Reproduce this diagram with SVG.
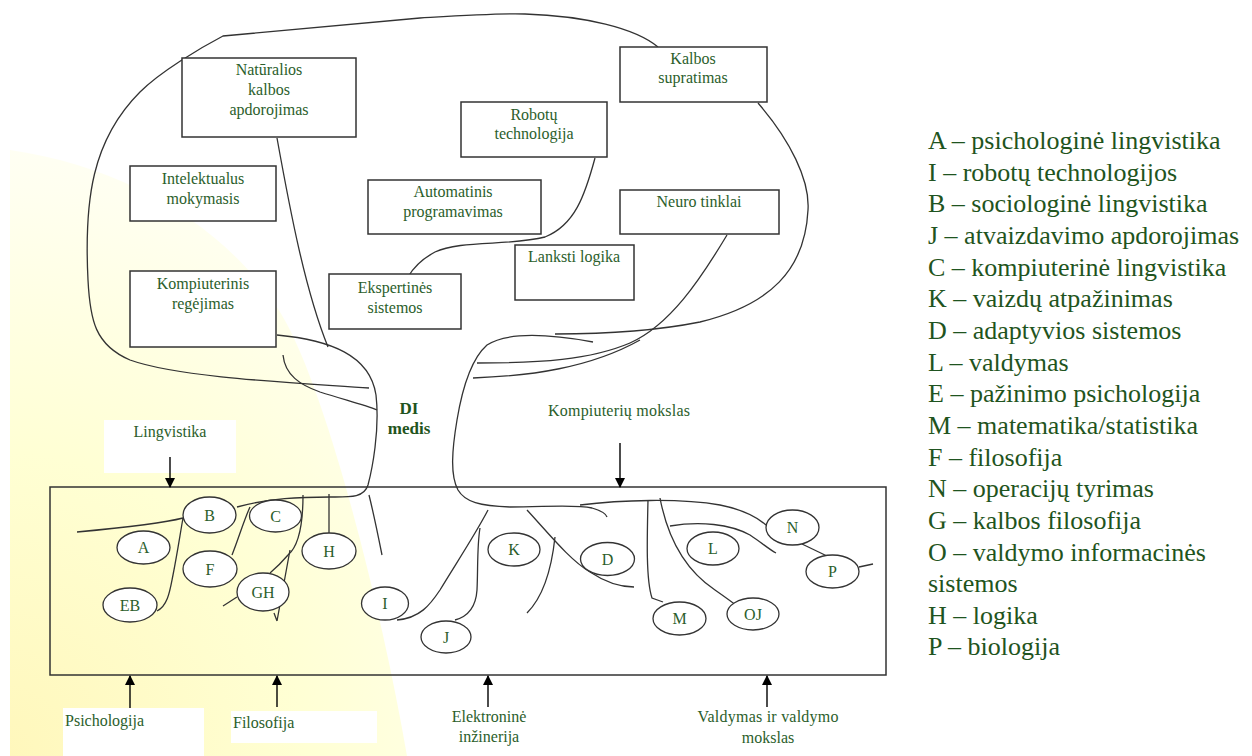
<svg xmlns="http://www.w3.org/2000/svg" width="1252" height="756" viewBox="0 0 1252 756">
<defs>
<radialGradient id="glow" gradientUnits="userSpaceOnUse" cx="0" cy="756" r="760">
<stop offset="0" stop-color="#fff7bb"/>
<stop offset="0.4" stop-color="#ffffd4"/>
<stop offset="0.75" stop-color="#fffff0"/>
<stop offset="1" stop-color="#ffffff"/>
</radialGradient>
<marker id="arr" markerWidth="10" markerHeight="10" refX="9" refY="5" orient="auto" markerUnits="userSpaceOnUse">
<path d="M0,0 L10,5 L0,10 Z" fill="#000"/>
</marker>
<style>
.box{fill:#fff;stroke:#333;stroke-width:1.5}
.ell{fill:#fff;stroke:#333;stroke-width:1.3}
.t{font-family:"Liberation Serif","Times New Roman",serif;font-size:16px;fill:#2b5e2b;text-anchor:middle}
.tl{font-family:"Liberation Serif","Times New Roman",serif;font-size:16px;fill:#2b5e2b}
.lg{font-family:"Liberation Serif","Times New Roman",serif;font-size:26px;fill:#1f5420}
.c{fill:none;stroke:#333;stroke-width:1.3}
.a{fill:none;stroke:#000;stroke-width:1.4;marker-end:url(#arr)}
</style>
</defs>
<rect width="1252" height="756" fill="#fff"/>
<path d="M10,150 C150,170 250,250 290,330 C330,410 380,600 407,756 L10,756 Z" fill="url(#glow)"/>
<rect x="104" y="420" width="132" height="53" fill="#fff"/>
<rect x="63" y="708" width="141" height="48" fill="#fff"/>
<rect x="231" y="711" width="146" height="32" fill="#fff"/>

<g id="base-box"><rect x="50" y="487" width="836" height="188" fill="none" stroke="#333" stroke-width="1.5"/></g>

<g id="connectors">
<path class="c" d="M369,388 C300,383 180,378 130,360 C95,345 90,320 88,280 C84,200 92,140 140,92 C160,72 200,48 223,36 L420,18 C470,15 500,13 525,14 C585,16 635,28 658,47"/>
<path class="c" d="M758,103 C790,140 810,180 808,210 C805,270 770,305 700,322 C650,332 600,334 555,334"/>
<path class="c" d="M593,342 C560,336 510,330 487,345 C470,360 462,390 457,420 C452,450 450,475 458,490 C465,502 480,506 510,507 C545,507 575,504 592,508 C602,511 606,514 607,517"/>
<path class="c" d="M727,235 C700,280 670,325 630,343 C590,360 540,363 477,363"/>
<path class="c" d="M473,378 C530,376 590,368 640,340"/>
<path class="c" d="M595,158 C585,195 575,225 545,237 C510,246 460,240 435,252 C420,260 412,270 408,277"/>
<path class="c" d="M277,138 C290,210 305,290 328,347"/>
<path class="c" d="M277,335 C330,340 370,355 376,395 C380,430 372,470 368,485 C364,498 350,497 330,497 C300,497 270,498 237,507"/>
<path class="c" d="M283,355 C285,375 300,385 320,392 C345,400 365,405 377,410"/>
<path class="c" d="M77,532 C120,528 160,524 183,518"/>
<path class="c" d="M157,611 C168,606 170,590 173,575 C177,555 180,535 183,518"/>
<path class="c" d="M232,555 C238,540 244,520 250,507"/>
<path class="c" d="M303,495 C303,520 300,545 288,555 C282,562 276,568 270,573"/>
<path class="c" d="M290,550 L277,621 M274,613 L277,621"/>
<path class="c" d="M223,606 L237,597"/>
<path class="c" d="M329,494 L329,533"/>
<path class="c" d="M369,495 C374,515 378,535 382,555"/>
<path class="c" d="M397,620 C420,618 430,605 440,590 C455,565 475,535 488,510"/>
<path class="c" d="M455,620 C470,616 476,605 477,590 C478,570 477,545 480,528"/>
<path class="c" d="M527,510 C550,535 570,560 590,572 C605,582 620,587 634,587"/>
<path class="c" d="M555,537 C552,565 545,595 527,613"/>
<path class="c" d="M648,500 C647,540 646,580 652,598 L663,602"/>
<path class="c" d="M660,498 C668,540 685,570 715,590 C725,597 732,602 737,606"/>
<path class="c" d="M670,526 C700,521 730,524 750,535 C762,543 770,550 776,553"/>
<path class="c" d="M580,505 C620,500 680,498 720,505 C745,510 758,518 766,525"/>
<path class="c" d="M802,544 L827,556"/>
<path class="c" d="M859,567 L873,564"/>
<path class="a" d="M170,457 L170,487"/>
<path class="a" d="M620,443 L620,487"/>
<path class="a" d="M130,708 L130,676"/>
<path class="a" d="M277,707 L277,676"/>
<path class="a" d="M488,707 L488,676"/>
<path class="a" d="M767,707 L767,676"/>
</g>

<g id="n-naturalios"><rect class="box" x="182" y="58" width="174" height="79"/><text class="t" x="269" y="75">Natūralios</text><text class="t" x="269" y="95">kalbos</text><text class="t" x="269" y="115">apdorojimas</text></g>
<g id="n-intelektualus"><rect class="box" x="130" y="166" width="146" height="55"/><text class="t" x="203" y="184">Intelektualus</text><text class="t" x="203" y="204">mokymasis</text></g>
<g id="n-kompiuterinis"><rect class="box" x="130" y="271" width="146" height="76"/><text class="t" x="203" y="289">Kompiuterinis</text><text class="t" x="203" y="309">regėjimas</text></g>
<g id="n-ekspertines"><rect class="box" x="329" y="274" width="132" height="55"/><text class="t" x="395" y="293">Ekspertinės</text><text class="t" x="395" y="313">sistemos</text></g>
<g id="n-automatinis"><rect class="box" x="368" y="180" width="173" height="54"/><text class="t" x="453" y="197">Automatinis</text><text class="t" x="453" y="217">programavimas</text></g>
<g id="n-robotu"><rect class="box" x="461" y="102" width="146" height="55"/><text class="t" x="534" y="120">Robotų</text><text class="t" x="534" y="139">technologija</text></g>
<g id="n-kalbos"><rect class="box" x="620" y="47" width="147" height="55"/><text class="t" x="693" y="64">Kalbos</text><text class="t" x="693" y="83">supratimas</text></g>
<g id="n-neuro"><rect class="box" x="620" y="190" width="159" height="44"/><text class="t" x="699" y="207">Neuro tinklai</text></g>
<g id="n-lanksti"><rect class="box" x="515" y="245" width="119" height="55"/><text class="t" x="574" y="262">Lanksti logika</text></g>

<g id="n-di"><text class="t" x="409" y="414" style="font-weight:bold;font-size:17px;fill:#1f5420">DI</text><text class="t" x="409" y="434" style="font-weight:bold;font-size:17px;fill:#1f5420">medis</text></g>
<g id="l-lingvistika"><text class="t" x="170" y="437">Lingvistika</text></g>
<g id="l-kompmokslas"><text class="t" x="619" y="416" textLength="142">Kompiuterių mokslas</text></g>
<g id="l-psichologija"><text class="tl" x="65" y="726">Psichologija</text></g>
<g id="l-filosofija"><text class="tl" x="233" y="728">Filosofija</text></g>
<g id="l-elektronine"><text class="t" x="489" y="722">Elektroninė</text><text class="t" x="489" y="742">inžinerija</text></g>
<g id="l-valdymas"><text class="t" x="768" y="722" textLength="141">Valdymas ir valdymo</text><text class="t" x="768" y="743">mokslas</text></g>

<g id="e-B"><ellipse class="ell" cx="209.5" cy="515" rx="26.5" ry="18"/><text class="t" x="209.5" y="520.5">B</text></g>
<g id="e-C"><ellipse class="ell" cx="275.5" cy="516" rx="26" ry="16"/><text class="t" x="275.5" y="521.5">C</text></g>
<g id="e-A"><ellipse class="ell" cx="143.5" cy="547.5" rx="26.5" ry="16.5"/><text class="t" x="143.5" y="553">A</text></g>
<g id="e-H"><ellipse class="ell" cx="329" cy="551" rx="27" ry="18"/><text class="t" x="329" y="556.5">H</text></g>
<g id="e-F"><ellipse class="ell" cx="210" cy="569" rx="27" ry="18"/><text class="t" x="210" y="574.5">F</text></g>
<g id="e-GH"><ellipse class="ell" cx="263" cy="592" rx="26" ry="19"/><text class="t" x="263" y="597.5">GH</text></g>
<g id="e-EB"><ellipse class="ell" cx="130" cy="605" rx="27" ry="17"/><text class="t" x="130" y="610.5">EB</text></g>
<g id="e-I"><ellipse class="ell" cx="385" cy="603.5" rx="23.5" ry="16.5"/><text class="t" x="385" y="609">I</text></g>
<g id="e-J"><ellipse class="ell" cx="446" cy="637" rx="25" ry="16"/><text class="t" x="446" y="642.5">J</text></g>
<g id="e-K"><ellipse class="ell" cx="514" cy="549.5" rx="26" ry="16.5"/><text class="t" x="514" y="555">K</text></g>
<g id="e-D"><ellipse class="ell" cx="607.5" cy="559" rx="27" ry="16.5"/><text class="t" x="607.5" y="564.5">D</text></g>
<g id="e-L"><ellipse class="ell" cx="713" cy="548.5" rx="26" ry="16.5"/><text class="t" x="713" y="554">L</text></g>
<g id="e-N"><ellipse class="ell" cx="792.5" cy="527.5" rx="26.5" ry="17.5"/><text class="t" x="792.5" y="533">N</text></g>
<g id="e-P"><ellipse class="ell" cx="832.5" cy="571.5" rx="26.5" ry="16.5"/><text class="t" x="832.5" y="577">P</text></g>
<g id="e-M"><ellipse class="ell" cx="679.5" cy="618.5" rx="26.5" ry="16.5"/><text class="t" x="679.5" y="624">M</text></g>
<g id="e-OJ"><ellipse class="ell" cx="753" cy="614" rx="26" ry="16"/><text class="t" x="753" y="619.5">OJ</text></g>

<g id="legend">
<text class="lg" x="928" y="149">A – psichologinė lingvistika</text>
<text class="lg" x="928" y="180.6">I – robotų technologijos</text>
<text class="lg" x="928" y="212.3">B – sociologinė lingvistika</text>
<text class="lg" x="928" y="244">J – atvaizdavimo apdorojimas</text>
<text class="lg" x="928" y="275.6">C – kompiuterinė lingvistika</text>
<text class="lg" x="928" y="307.3">K – vaizdų atpažinimas</text>
<text class="lg" x="928" y="339">D – adaptyvios sistemos</text>
<text class="lg" x="928" y="370.6">L – valdymas</text>
<text class="lg" x="928" y="402.2">E – pažinimo psichologija</text>
<text class="lg" x="928" y="433.9">M – matematika/statistika</text>
<text class="lg" x="928" y="465.5">F – filosofija</text>
<text class="lg" x="928" y="497.2">N – operacijų tyrimas</text>
<text class="lg" x="928" y="528.8">G – kalbos filosofija</text>
<text class="lg" x="928" y="560.5">O – valdymo informacinės</text>
<text class="lg" x="928" y="592.1">sistemos</text>
<text class="lg" x="928" y="623.8">H – logika</text>
<text class="lg" x="928" y="655.4">P – biologija</text>
</g>
</svg>
